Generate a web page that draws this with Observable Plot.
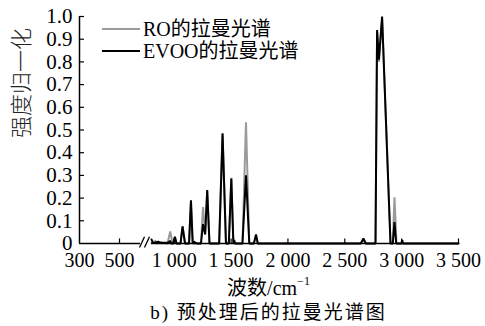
<!DOCTYPE html>
<html><head><meta charset="utf-8">
<script src="https://cdn.jsdelivr.net/npm/d3@7"></script>
<script src="https://cdn.jsdelivr.net/npm/@observablehq/plot@0.6"></script>
<style>
body{margin:0;background:#fff;}
#wrap{position:relative;width:485px;height:326px;font-family:"Liberation Serif","Noto Sans CJK SC",serif;}
#chart{position:absolute;left:0;top:0;}
#legend{position:absolute;left:102px;top:18px;font-size:20px;line-height:22px;color:#000;}
#legend .row{display:flex;align-items:center;height:22px;}
#legend .sw{display:inline-block;width:38px;height:0;border-top:2px solid;margin-right:3px;}
#xlabel{position:absolute;left:0;width:537px;text-align:center;top:272px;font-size:20px;}
#caption{position:absolute;left:0;width:537px;text-align:center;top:297px;font-size:19px;letter-spacing:2px;}
</style></head>
<body>
<div id="wrap">
<div id="chart"></div>
<div id="legend"></div>
<div id="xlabel"></div>
<div id="caption"></div>
</div>
<script>
// ---- data ----
const seriesNames = ["RO的拉曼光谱", "EVOO的拉曼光谱"];
const seriesColors = ["#9a9a9a", "#000000"];
const wnRO = [800, 815, 833, 850, 940, 965, 985, 995, 1006, 1020, 1055, 1073, 1095, 1130, 1147, 1162, 1235, 1253, 1272, 1290, 1310, 1395, 1425, 1455, 1480, 1502, 1520, 1600, 1631, 1660, 1700, 1719, 1735, 2640, 2664, 2685, 2770, 2784, 2800, 2828, 2902, 2922, 2937, 2955, 3500];
const vRO  = [0.004, 0.004, 0.012, 0.003, 0.0, 0.053, 0.0, 0.0, 0.025, 0.0, 0.0, 0.07, 0.0, 0.0, 0.18, 0.0, 0.0, 0.16, 0.05, 0.23, 0.0, 0.0, 0.48, 0.0, 0.0, 0.29, 0.0, 0.0, 0.534, 0.0, 0.0, 0.03, 0.0, 0.0, 0.015, 0.0, 0.0, 0.93, 0.80, 0.99, 0.0, 0.0, 0.204, 0.0, 0.0];
const wnEVOO = [800, 812, 830, 860, 880, 900, 950, 962, 975, 990, 1006, 1020, 1055, 1073, 1095, 1130, 1147, 1162, 1175, 1185, 1200, 1235, 1253, 1272, 1290, 1310, 1395, 1425, 1455, 1480, 1502, 1520, 1527, 1535, 1600, 1631, 1660, 1700, 1719, 1735, 2640, 2664, 2685, 2770, 2784, 2800, 2828, 2902, 2922, 2937, 2952, 2998, 3005, 3012, 3500];
const vEVOO  = [0.018, 0.003, 0.003, 0.008, 0.004, 0.003, 0.003, 0.012, 0.0, 0.0, 0.03, 0.0, 0.0, 0.076, 0.0, 0.0, 0.19, 0.005, 0.008, 0.004, 0.0, 0.0, 0.085, 0.04, 0.236, 0.0, 0.0, 0.486, 0.0, 0.0, 0.286, 0.0, 0.015, 0.0, 0.0, 0.30, 0.0, 0.0, 0.04, 0.0, 0.0, 0.022, 0.0, 0.0, 0.94, 0.81, 1.0, 0.0, 0.0, 0.094, 0.0, 0.0, 0.015, 0.0, 0.0];
const xTicks = [300, 500, 1000, 1500, 2000, 2500, 3000, 3500];
const yTicks = [0, 0.1, 0.2, 0.3, 0.4, 0.5, 0.6, 0.7, 0.8, 0.9, 1.0];
const xBreak = [605, 800];      // axis gap (wavenumber)
const yLabel = "强度归一化";
const xLabelHTML = "波数/cm<sup style='font-size:12px;position:relative;top:-2px'>−1</sup>";
const captionText = "b) 预处理后的拉曼光谱图";

const ro = wnRO.map((w, i) => ({wn: w, v: vRO[i]}));
const evoo = wnEVOO.map((w, i) => ({wn: w, v: vEVOO[i]}));
const fmtX = d => d >= 1000 ? String(d).replace(/(\d)(\d{3})$/, "$1 $2") : String(d);
const fmtY = d => d === 0 ? "0" : d.toFixed(1);
const slashes = [{x1: 600, x2: 625}, {x1: 625, x2: 650}];

const plot = Plot.plot({
  width: 485,
  height: 274,
  marginTop: 16,
  marginBottom: 31,
  marginLeft: 79,
  marginRight: 27,
  style: {fontFamily: '"Liberation Serif","Noto Sans CJK SC",serif', fontSize: "20px", color: "#000", background: "transparent"},
  x: {type: "linear", domain: [300, 650, 800, 3500], range: [79, 149, 151, 458]},
  y: {domain: [0, 1], range: [243, 16]},
  marks: [
    Plot.axisX({ticks: xTicks, tickFormat: fmtX, tickSize: 0, tickPadding: 9, label: null, fontSize: 20}),
    Plot.axisY({ticks: yTicks, tickFormat: fmtY, tickSize: 0, tickPadding: 7, label: null, fontSize: 21}),
    Plot.line(ro, {x: "wn", y: "v", stroke: seriesColors[0], strokeWidth: 2, strokeLinejoin: "miter"}),
    Plot.line(evoo, {x: "wn", y: "v", stroke: seriesColors[1], strokeWidth: 2, strokeLinejoin: "miter"}),
    // axes lines
    Plot.ruleY([0], {x1: 300, x2: xBreak[0], stroke: "#000", strokeWidth: 1.5}),
    Plot.ruleY([0], {x1: xBreak[1], x2: 3500, stroke: "#000", strokeWidth: 1.5}),
    Plot.ruleX([300], {y1: 0, y2: 1, stroke: "#000", strokeWidth: 1.5}),
    Plot.ruleX(xTicks.slice(1), {y1: 0, y2: 0.02, stroke: "#000", strokeWidth: 1.2}),
    Plot.ruleY(yTicks.slice(1), {x1: 300, x2: 325, stroke: "#000", strokeWidth: 1.2}),
    Plot.link(slashes, {x1: "x1", x2: "x2", y1: -0.018, y2: 0.03, stroke: "#000", strokeWidth: 1.3}),
    Plot.text([yLabel], {frameAnchor: "left", rotate: -90, dx: -58, dy: 8, fontSize: 22, fontFamily: '"Noto Sans CJK SC",sans-serif', fontWeight: 300, fill: "#222"})
  ]
});
document.getElementById("chart").appendChild(plot);

document.getElementById("legend").innerHTML = seriesNames.map((n, i) =>
  `<div class="row"><span class="sw" style="border-color:${seriesColors[i]}"></span><span>${n}</span></div>`).join("");
document.getElementById("xlabel").innerHTML = xLabelHTML;
document.getElementById("caption").textContent = captionText;
</script>
</body></html>
